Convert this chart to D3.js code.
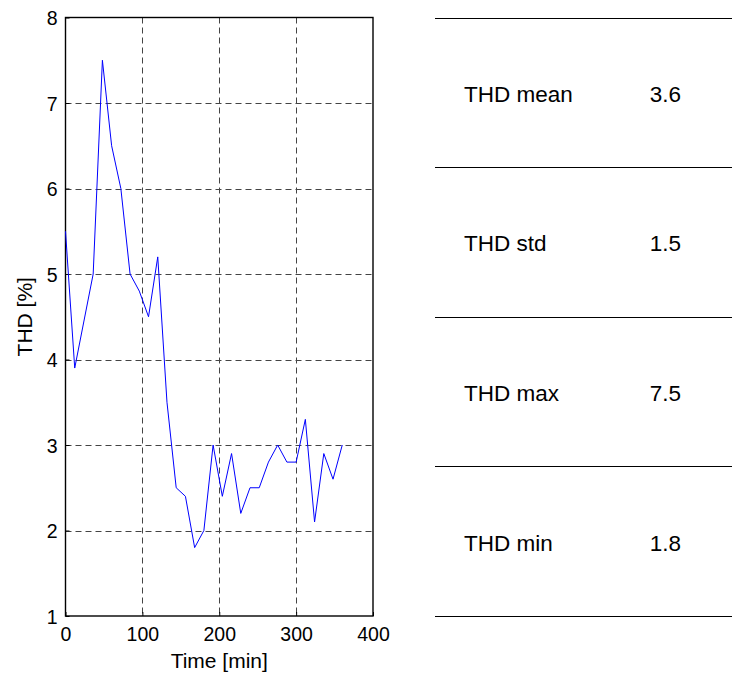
<!DOCTYPE html>
<html>
<head>
<meta charset="utf-8">
<script src="https://cdn.jsdelivr.net/npm/d3@7"></script>
<style>
  body { margin: 0; background: #fff; }
  svg { display: block; font-family: "Liberation Sans", Arial, sans-serif; }
</style>
</head>
<body>
<svg id="chart" width="732" height="675"></svg>
<script>
// THD samples, every 12 minutes
const times = [0, 12, 24, 36, 48, 60, 72, 84, 96, 108, 120, 132, 144, 156, 168, 180,
    192, 204, 216, 228, 240, 252, 264, 276, 288, 300, 312, 324, 336, 348, 360];
const thd = [5.5, 3.9, 4.45, 5.0, 7.5, 6.5, 6.0, 5.0, 4.8, 4.5, 5.2, 3.5, 2.5, 2.4, 1.8, 2.0,
    3.0, 2.4, 2.9, 2.2, 2.5, 2.5, 2.8, 3.0, 2.8, 2.8, 3.3, 2.1, 2.9, 2.6, 3.0];

const xTicks = [0, 100, 200, 300, 400];
const yTicks = [1, 2, 3, 4, 5, 6, 7, 8];

// stats table
const statLabels = ["THD mean", "THD std", "THD max", "THD min"];
const statValues = ["3.6", "1.5", "7.5", "1.8"];

const svg = d3.select("#chart");

const plotLeft = 65.5, plotRight = 373, plotTop = 17.5, plotBottom = 616;

const x = d3.scaleLinear().domain([0, 400]).range([plotLeft, plotRight]);
const y = d3.scaleLinear().domain([1, 8]).range([plotBottom, plotTop]);

//Grid
const grid = svg.append("g")
    .attr("stroke", "#444")
    .attr("stroke-width", 1)
    .attr("stroke-dasharray", "6,4");

grid.selectAll("line.gx")
    .data(xTicks.slice(1, -1))
    .enter()
    .append("line")
    .attr("x1", d => Math.round(x(d)) + 0.5)
    .attr("x2", d => Math.round(x(d)) + 0.5)
    .attr("y1", plotTop)
    .attr("y2", plotBottom);

grid.selectAll("line.gy")
    .data(yTicks.slice(1, -1))
    .enter()
    .append("line")
    .attr("y1", d => Math.round(y(d)) + 0.5)
    .attr("y2", d => Math.round(y(d)) + 0.5)
    .attr("x1", plotLeft)
    .attr("x2", plotRight);

//Axes
const xAxis = svg.append("g")
    .attr("transform", "translate(0," + plotBottom + ")")
    .call(d3.axisBottom(x).tickValues(xTicks).tickFormat(d3.format("d")).tickSize(-4).tickPadding(10));

const yAxis = svg.append("g")
    .attr("transform", "translate(" + plotLeft + ",0)")
    .call(d3.axisLeft(y).tickValues(yTicks).tickFormat(d3.format("d")).tickSize(-4).tickPadding(8));

[xAxis, yAxis].forEach(function (a) {
    a.select(".domain").remove();
    a.selectAll("line").attr("stroke", "#000");
    a.selectAll("text")
        .attr("fill", "#000")
        .style("font-size", "19.5px")
        .style("font-family", "'Liberation Sans', Arial, sans-serif");
});
xAxis.selectAll("text").attr("dy", "0.75em");
yAxis.selectAll("text").attr("dy", "0.36em");

// frame
svg.append("rect")
    .attr("x", plotLeft)
    .attr("y", plotTop)
    .attr("width", plotRight - plotLeft)
    .attr("height", plotBottom - plotTop)
    .attr("fill", "none")
    .attr("stroke", "#000")
    .attr("stroke-width", 1.4);

//Line
const line = d3.line()
    .x((d, i) => x(times[i]))
    .y(d => y(d));

svg.append("path")
    .datum(thd)
    .attr("d", line)
    .attr("fill", "none")
    .attr("stroke", "#0000ff")
    .attr("stroke-width", 1);

//Labels
svg.append("text")
    .attr("x", (plotLeft + plotRight) / 2)
    .attr("y", 668)
    .attr("text-anchor", "middle")
    .style("font-size", "21px")
    .text("Time [min]");

svg.append("text")
    .attr("transform", "translate(32," + (plotTop + plotBottom) / 2 + ") rotate(-90)")
    .attr("text-anchor", "middle")
    .style("font-size", "21px")
    .text("THD [%]");

//Table
const rowH = (plotBottom - plotTop) / statLabels.length;

svg.append("g")
    .selectAll("line")
    .data(d3.range(statLabels.length + 1))
    .enter()
    .append("line")
    .attr("x1", 435)
    .attr("x2", 732)
    .attr("y1", d => Math.round(plotTop + d * rowH) + 0.5)
    .attr("y2", d => Math.round(plotTop + d * rowH) + 0.5)
    .attr("stroke", "#000")
    .attr("stroke-width", 1);

const rows = svg.append("g")
    .selectAll("g")
    .data(statLabels)
    .enter()
    .append("g")
    .attr("transform", (d, i) => "translate(0," + (plotTop + (i + 0.5) * rowH + 9.5) + ")");

rows.append("text")
    .attr("x", 464)
    .style("font-size", "22.5px")
    .text(d => d);

rows.append("text")
    .attr("x", 681)
    .attr("text-anchor", "end")
    .style("font-size", "22.5px")
    .text((d, i) => statValues[i]);
</script>
</body>
</html>
